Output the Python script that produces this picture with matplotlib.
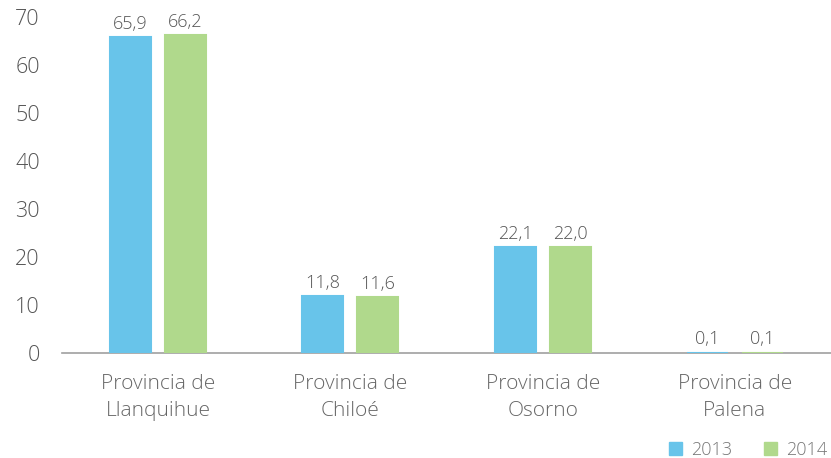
import numpy as np
import matplotlib.pyplot as plt
from matplotlib.patches import Patch

plt.rcParams["font.family"] = ["Open Sans", "DejaVu Sans"]
plt.rcParams["font.weight"] = "light"

categories = ["Provincia de\nLlanquihue", "Provincia de\nChiloé", "Provincia de\nOsorno", "Provincia de\nPalena"]
values_2013 = [65.9, 11.8, 22.1, 0.1]
values_2014 = [66.2, 11.6, 22.0, 0.1]
series_names = ["2013", "2014"]

c13 = "#68C4EA"
c14 = "#B0D98C"
text_col = "#555555"

fig = plt.figure(figsize=(8.31, 4.58), dpi=100)
ax = fig.add_axes([62 / 831, 1 - 353 / 458, 1 - 62 / 831, (353 - 17) / 458])

x = np.arange(len(categories))
w = 0.214
off = 0.143
b1 = ax.bar(x - off, values_2013, w, color=c13, edgecolor=c13, linewidth=1.5, zorder=3)
b2 = ax.bar(x + off, values_2014, w, color=c14, edgecolor=c14, linewidth=1.5, zorder=3)

for bars, vals in ((b1, values_2013), (b2, values_2014)):
    for bar, v in zip(bars, vals):
        ax.annotate(f"{v:.1f}".replace(".", ","),
                    (bar.get_x() + bar.get_width() / 2, bar.get_height()),
                    xytext=(0, 3), textcoords="offset points",
                    ha="center", va="bottom", fontsize=13, color=text_col)

ax.set_xlim(-0.5, 3.5)
ax.set_ylim(0, 70)
ax.set_yticks(range(0, 71, 10))
ax.set_xticks(x)
ax.set_xticklabels(categories, fontsize=15, color="#666666", linespacing=1.45)
ax.tick_params(axis="y", length=0, pad=16, labelsize=15.5, labelcolor="#555555")
ax.tick_params(axis="x", length=0, pad=15)

for s in ("top", "right", "left"):
    ax.spines[s].set_visible(False)
ax.spines["bottom"].set_color("#a0a0a0")
ax.spines["bottom"].set_linewidth(1.2)

handles = [Patch(color=c13), Patch(color=c14)]
fig.legend(handles, series_names, loc="lower right", bbox_to_anchor=(1.0, -0.01),
           ncol=2, frameon=False, fontsize=13, handlelength=0.7, handleheight=0.7,
           handletextpad=0.5, columnspacing=1.8, labelcolor="#777777",
           borderaxespad=0, borderpad=0.2)

fig.savefig("out.png", dpi=100)
